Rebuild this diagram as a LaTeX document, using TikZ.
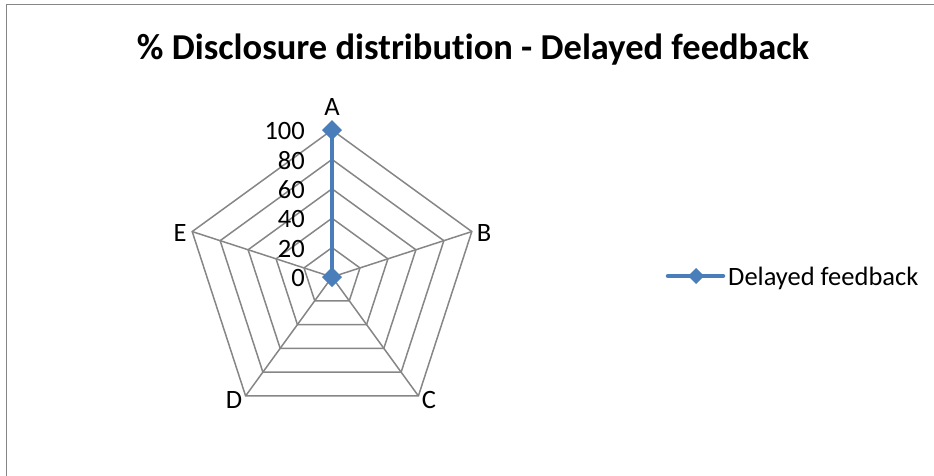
\documentclass[tikz,border=0pt]{standalone}
\usepackage{fontspec}
\setmainfont{Carlito}[Ligatures=NoCommon]
\usetikzlibrary{calc}
\definecolor{gridgray}{RGB}{134,134,134}
\definecolor{serblue}{RGB}{74,126,187}
\tikzset{
  gridline/.style={draw=gridgray,line width=1.5pt},
  series/.style={draw=serblue,line width=4.5pt},
  marker/.style={fill=serblue,draw=none},
  ticklbl/.style={anchor=east,font=\fontsize{26.5}{30}\selectfont,inner sep=0pt},
  axislbl/.style={font=\fontsize{26.5}{30}\selectfont,inner sep=0pt},
}
\begin{document}
\begin{tikzpicture}[x=1pt,y=-1pt]
\useasboundingbox (0,0) rectangle (934,475);
\draw[gridgray,line width=1.5pt] (6.5,4.5) rectangle (945,490);
\node[font=\bfseries\fontsize{36.5}{40}\selectfont,anchor=base,inner sep=0pt] (title) at (473,59) {\% Disclosure distribution - Delayed feedback};
\coordinate (O) at (332,277);
% grid pentagons
\foreach \k in {1,...,5}{
  \pgfmathsetmacro{\r}{147*\k/5}
  \draw[gridline,line join=miter] ($(O)+(-90:\r)$) -- ($(O)+(-18:\r)$) -- ($(O)+(54:\r)$) -- ($(O)+(126:\r)$) -- ($(O)+(198:\r)$) -- cycle;
}
\coordinate (vA) at ($(O)+(-90:147)$);
\coordinate (vB) at ($(O)+(-18:147)$);
\coordinate (vC) at ($(O)+(54:147)$);
\coordinate (vD) at ($(O)+(126:147)$);
\coordinate (vE) at ($(O)+(198:147)$);
\foreach \v in {vA,vB,vC,vD,vE}{\draw[gridline] (O) -- (\v);}
% tick labels
\foreach \k/\t in {0/0,1/20,2/40,3/60,4/80,5/100}{
  \node[ticklbl] (t\k) at (305,{277-29.4*\k+1}) {\t};
}
% axis labels
\node[axislbl] (lA) at (332,107) {A};
\node[axislbl] (lB) at (484,233) {B};
\node[axislbl] (lC) at (429,400) {C};
\node[axislbl] (lD) at (234,400) {D};
\node[axislbl] (lE) at (180,233) {E};
% series
\draw[series] (vA) -- (O);
\fill[marker] ($(vA)+(-10,0)$) -- ($(vA)+(0,-10)$) -- ($(vA)+(10,0)$) -- ($(vA)+(0,10)$) -- cycle;
\fill[marker] ($(O)+(-10,0)$) -- ($(O)+(0,-10)$) -- ($(O)+(10,0)$) -- ($(O)+(0,10)$) -- cycle;
% legend
\coordinate (legL) at (668,276);
\coordinate (legR) at (723,276);
\coordinate (legM) at (696,276);
\draw[series,line cap=round] (legL) -- (legR);
\fill[marker] ($(legM)+(-8,0)$) -- ($(legM)+(0,-8)$) -- ($(legM)+(8,0)$) -- ($(legM)+(0,8)$) -- cycle;
\node[anchor=west,inner sep=0pt,font=\fontsize{26.5}{30}\selectfont] (legtext) at (728,278) {Delayed feedback};
\end{tikzpicture}
\end{document}
